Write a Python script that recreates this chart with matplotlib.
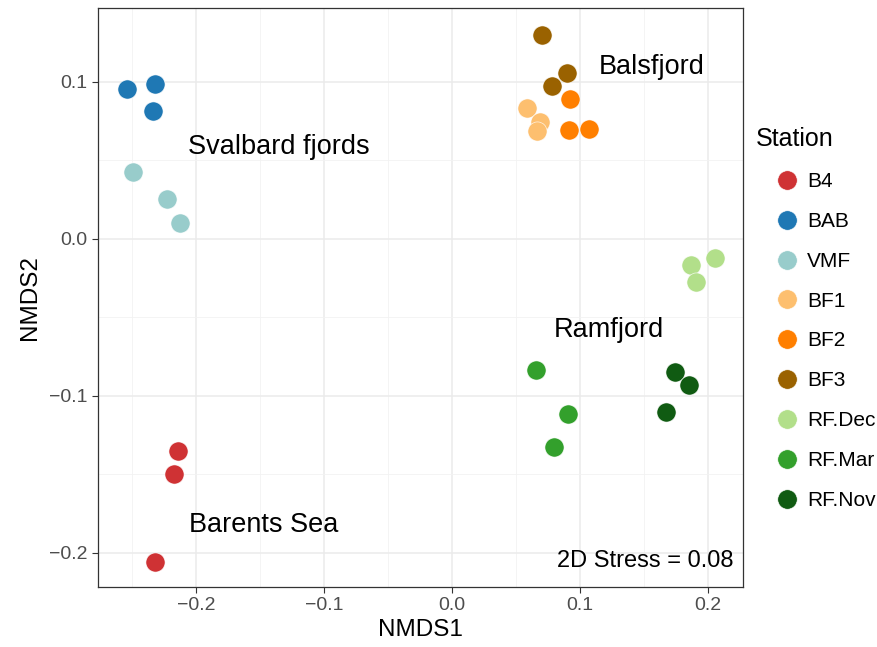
import matplotlib
matplotlib.use("Agg")
import matplotlib.pyplot as plt
from matplotlib.lines import Line2D

plt.rcParams['font.family'] = ['Liberation Sans', 'DejaVu Sans']

# NMDS scores per station
stations = ["B4", "BAB", "VMF", "BF1", "BF2", "BF3", "RF.Dec", "RF.Mar", "RF.Nov"]
colors = ["#CF3234", "#1F78B4", "#98CCCB", "#FDBF6F", "#FF7F00", "#9A6200",
          "#B2DF8A", "#33A02C", "#105B12"]
nmds1 = {
    "B4": [-0.2138, -0.2174, -0.2323],
    "BAB": [-0.254, -0.232, -0.2336],
    "VMF": [-0.2492, -0.2227, -0.2128],
    "BF1": [0.0583, 0.0688, 0.0661],
    "BF2": [0.092, 0.0914, 0.107],
    "BF3": [0.0706, 0.0898, 0.0779],
    "RF.Dec": [0.187, 0.2057, 0.1904],
    "RF.Mar": [0.0654, 0.0904, 0.0797],
    "RF.Nov": [0.1742, 0.1849, 0.1674],
}
nmds2 = {
    "B4": [-0.1348, -0.1499, -0.2055],
    "BAB": [0.0955, 0.0987, 0.0815],
    "VMF": [0.0427, 0.0257, 0.0104],
    "BF1": [0.0832, 0.0743, 0.0688],
    "BF2": [0.089, 0.0692, 0.0701],
    "BF3": [0.1301, 0.1059, 0.0975],
    "RF.Dec": [-0.0166, -0.0121, -0.0276],
    "RF.Mar": [-0.0832, -0.1113, -0.1325],
    "RF.Nov": [-0.0845, -0.093, -0.1102],
}

region_labels = ["Svalbard fjords", "Balsfjord", "Ramfjord", "Barents Sea"]
region_x = [-0.135, 0.156, 0.1227, -0.1469]
region_y = [0.0586, 0.1096, -0.058, -0.1822]
stress = 0.08

fig = plt.figure(figsize=(8.78, 6.47), dpi=100)
ax = fig.add_axes([98 / 878, 1 - 587 / 647, (743 - 98) / 878, (587 - 8) / 647])

for st, col in zip(stations, colors):
    ax.scatter(nmds1[st], nmds2[st], s=190, color=col, edgecolors="white",
               linewidths=0.4, zorder=3)

for lab, x, y in zip(region_labels, region_x, region_y):
    ax.text(x, y, lab, fontsize=19.5, ha="center", va="center", color="black")

ax.text(0.2195, -0.205, f"2D Stress = {stress}", fontsize=17, ha="right",
        va="center", color="black")

ax.set_xlim(-0.2766, 0.2273)
ax.set_ylim(-0.2217, 0.1471)
ax.set_xticks([-0.2, -0.1, 0.0, 0.1, 0.2])
ax.set_xticklabels(["\u22120.2", "\u22120.1", "0.0", "0.1", "0.2"])
ax.set_yticks([-0.2, -0.1, 0.0, 0.1])
ax.set_yticklabels(["\u22120.2", "\u22120.1", "0.0", "0.1"])
ax.set_xticks([-0.25, -0.15, -0.05, 0.05, 0.15], minor=True)
ax.set_yticks([-0.15, -0.05, 0.05], minor=True)

ax.grid(which="major", color="#EBEBEB", linewidth=1.1, zorder=0)
ax.grid(which="minor", color="#F2F2F2", linewidth=0.6, zorder=0)
ax.set_axisbelow(True)
ax.tick_params(which="major", length=4, width=0.8, color="#333333",
               labelcolor="#4D4D4D", labelsize=14)
ax.tick_params(which="minor", length=0)
for sp in ax.spines.values():
    sp.set_color("#333333")
    sp.set_linewidth(0.9)

ax.set_xlabel("NMDS1", fontsize=17.5, labelpad=3)
ax.set_ylabel("NMDS2", fontsize=17.5, labelpad=6)

handles = [Line2D([], [], marker="o", linestyle="", markersize=14,
                  markerfacecolor=c, markeredgecolor="white", markeredgewidth=0.4)
           for c in colors]
leg = fig.legend(handles, stations, title="Station", loc="upper left",
                 bbox_to_anchor=(747 / 878, 1 - 119 / 647), frameon=False,
                 fontsize=15, title_fontsize=18, labelspacing=1.0,
                 handletextpad=-0.57, borderaxespad=0, handlelength=3.06)
leg._legend_box.align = "left"

fig.savefig("out.png", dpi=100)
